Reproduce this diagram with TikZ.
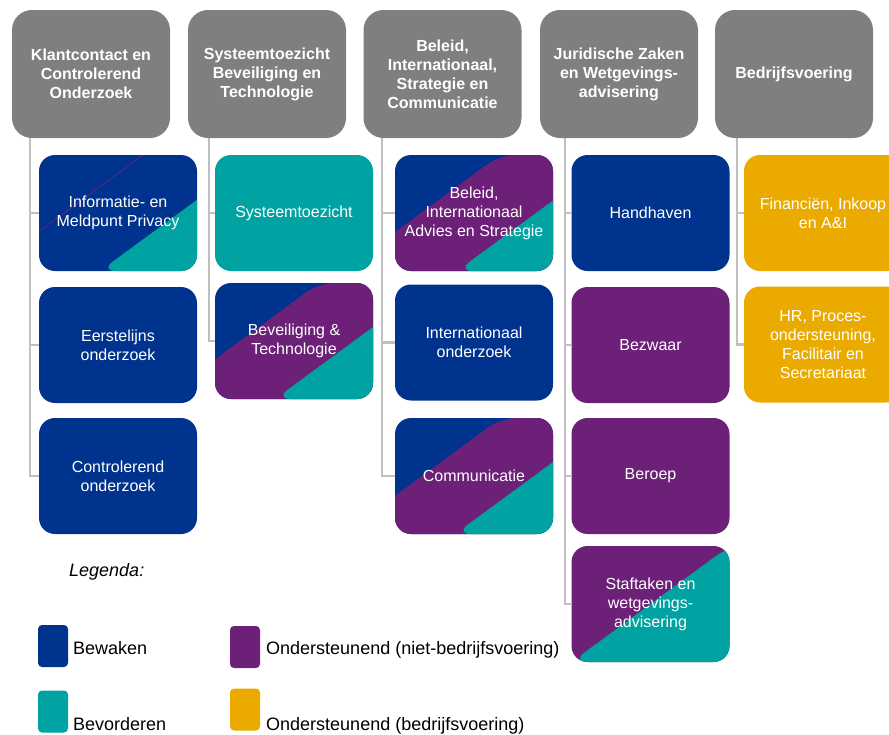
\documentclass[tikz,border=0pt]{standalone}
\usepackage{fontspec}
\setmainfont{Liberation Sans}
\usetikzlibrary{backgrounds}
\definecolor{kblue}{HTML}{00338D}
\definecolor{kpurple}{HTML}{6D2077}
\definecolor{kteal}{HTML}{00A3A1}
\definecolor{kyellow}{HTML}{EAAA00}
\definecolor{kgray}{HTML}{7F7F7F}
\definecolor{kline}{HTML}{BFBFBF}
\newcommand\bandfill[2]{\fill[#1] ([xshift=#2pt]path picture bounding box.south west) -- ([xshift=#2pt]path picture bounding box.north east) -- ([xshift=#2pt+400pt]path picture bounding box.north east) -- ([xshift=#2pt+400pt]path picture bounding box.south west) -- cycle;}
\newcommand\bandline[2]{\draw[#1, line width=0.8pt] ([xshift=#2pt]path picture bounding box.south west) -- ([xshift=#2pt]path picture bounding box.north east);}
\tikzset{
  header/.style={rounded corners=20pt, minimum width=158pt, minimum height=128pt, inner sep=0pt, fill=kgray, text=white, align=center, font=\fontsize{16}{19}\selectfont\bfseries},
  unit/.style={rounded corners=16pt, minimum width=158pt, minimum height=116pt, inner sep=0pt, text=white, align=center, font=\fontsize{16}{19}\selectfont},
  conn/.style={draw=kline, line width=2.6pt},
  legbox/.style={rounded corners=4pt, minimum width=30pt, minimum height=42pt, inner sep=0pt},
  legtext/.style={anchor=base west, inner sep=0pt, font=\fontsize{18}{21}\selectfont}
}
\begin{document}
\begin{tikzpicture}[x=1pt,y=-1pt]
\useasboundingbox (0,0) rectangle (889,734);
\clip (0,0) rectangle (889,734);

% headers
\node[header] (h1) at (91,74) {Klantcontact en\\Controlerend\\Onderzoek};
\node[header] (h2) at (267,74) {Systeemtoezicht\\Beveiliging en\\Technologie};
\node[header] (h3) at (442.5,74) {Beleid,\\Internationaal,\\Strategie en\\Communicatie};
\node[header] (h4) at (619,74) {Juridische Zaken\\en Wetgevings-\\advisering};
\node[header] (h5) at (794,74) {Bedrijfsvoering};

% connector tops
\coordinate (v1) at (30,138);
\coordinate (v2) at (209,138);
\coordinate (v3) at (382,138);
\coordinate (v4) at (565,138);
\coordinate (v5) at (737,138);

% column 1
\node[unit, fill=kblue, path picture={\bandline{kpurple}{-54}\bandfill{kteal}{61}}] (b11) at (118,213) {Informatie- en\\Meldpunt Privacy};
\node[unit, fill=kblue] (b12) at (118,345) {Eerstelijns\\onderzoek};
\node[unit, fill=kblue] (b13) at (118,476) {Controlerend\\onderzoek};

% column 2
\node[unit, fill=kteal] (b21) at (294,213) {Systeemtoezicht};
\node[unit, fill=kblue, path picture={\bandfill{kpurple}{-54}\bandfill{kteal}{60}}] (b22) at (294,341) {Beveiliging \&\\Technologie};

% column 3
\node[unit, fill=kblue, path picture={\bandfill{kpurple}{-53}\bandfill{kteal}{62}}] (b31) at (474,213) {Beleid,\\Internationaal\\Advies en Strategie};
\node[unit, fill=kblue] (b32) at (474,342.5) {Internationaal\\onderzoek};
\node[unit, fill=kblue, path picture={\bandfill{kpurple}{-52}\bandfill{kteal}{60}}] (b33) at (474,476) {Communicatie};

% column 4
\node[unit, fill=kblue] (b41) at (650.5,213) {Handhaven};
\node[unit, fill=kpurple] (b42) at (650.5,345) {Bezwaar};
\node[unit, fill=kpurple] (b43) at (650.5,476) {Beroep};
\node[unit, fill=kpurple, path picture={\bandfill{kteal}{0}}] (b44) at (650.5,604) {Staftaken en\\wetgevings-\\advisering};

% column 5
\node[unit, fill=kyellow] (b51) at (823,213) {Financiën, Inkoop\\en A\&I};
\node[unit, fill=kyellow] (b52) at (823,344.5) {HR, Proces-\\ondersteuning,\\Facilitair en\\Secretariaat};

% connectors
\begin{pgfonlayer}{background}
\draw[conn] (v1) |- (b11.west);
\draw[conn] (v1) |- (b12.west);
\draw[conn] (v1) |- (b13.west);
\draw[conn] (v2) |- (b21.west);
\draw[conn] (v2) |- (b22.west);
\draw[conn] (v3) |- (b31.west);
\draw[conn] (v3) |- (b32.west);
\draw[conn] (v3) |- (b33.west);
\draw[conn] (v4) |- (b41.west);
\draw[conn] (v4) |- (b42.west);
\draw[conn] (v4) |- (b43.west);
\draw[conn] (v4) |- (b44.west);
\draw[conn] (v5) |- (b51.west);
\draw[conn] (v5) |- (b52.west);
\end{pgfonlayer}

% legend
\node[legtext, font=\fontsize{18}{21}\selectfont\itshape] (leg) at (69,576) {Legenda:};
\node[legbox, fill=kblue] (lb1) at (53,646) {};
\node[legbox, fill=kpurple] (lb2) at (245,647) {};
\node[legbox, fill=kteal] (lb3) at (53,711.5) {};
\node[legbox, fill=kyellow] (lb4) at (245,709.5) {};
\node[legtext] (lt1) at (73,654) {Bewaken};
\node[legtext] (lt2) at (266,654) {Ondersteunend (niet-bedrijfsvoering)};
\node[legtext] (lt3) at (73,730) {Bevorderen};
\node[legtext] (lt4) at (266,730) {Ondersteunend (bedrijfsvoering)};
\end{tikzpicture}
\end{document}
